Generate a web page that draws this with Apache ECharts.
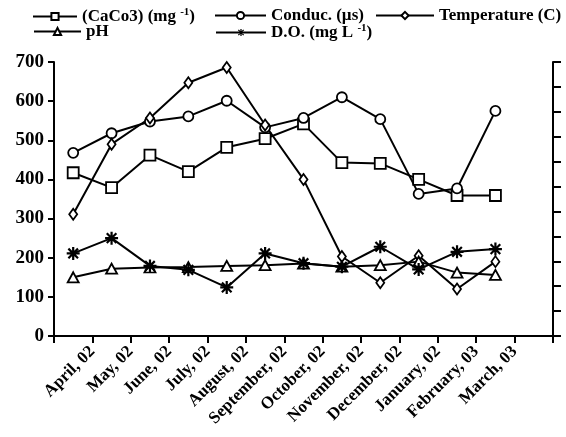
<!DOCTYPE html>
<html>
<head>
<meta charset="utf-8">
<script src="https://cdn.jsdelivr.net/npm/echarts@6/dist/echarts.min.js"></script>
<style>html,body{margin:0;padding:0;background:#fff;}#c{width:566px;height:437px;}</style>
</head>
<body>
<div id="c"></div>
<script>
const months = ['April, 02','May, 02','June, 02','July, 02','August, 02','September, 02','October, 02','November, 02','December, 02','January, 02','February, 03','March, 03'];
const caco3 = [417, 379, 462, 420, 482, 504, 542, 443, 441, 400, 359, 359];
const conduc = [468, 518, 548, 561, 601, 533, 557, 610, 554, 363, 377, 575];
const temperature = [311, 490, 557, 647, 686, 539, 400, 203, 136, 205, 120, 190];
const ph = [150, 172, 175, 176, 179, 181, 185, 177, 181, 190, 162, 156];
const dox = [211, 250, 179, 169, 124, 211, 186, 177, 228, 170, 215, 222];
const leftTicks = {min: 0, max: 700, interval: 100};
const rightTicks = {min: 0, max: 11, interval: 1};

const FONT = 'Liberation Serif';
const asterisk = 'path://M8.3,0 L11.7,0 L11.7,20 L8.3,20 Z M0,8.3 L20,8.3 L20,11.7 L0,11.7 Z M1.4,3.8 L3.8,1.4 L18.6,16.2 L16.2,18.6 Z M16.2,1.4 L18.6,3.8 L3.8,18.6 L1.4,16.2 Z M6,6 L14,6 L14,14 L6,14 Z';

const names = ['(CaCo3) (mg -1)', 'Conduc. (\u00b5s)', 'Temperature (C)', 'pH', 'D.O. (mg L -1)'];
const emptyStyle = {color: '#fff', borderColor: '#000', borderWidth: 1.8};
const lineStyle = {color: '#000', width: 2};

function mkSeries(name, data, symbol, size, style) {
  return {
    name: name, type: 'line', data: data, xAxisIndex: 0, yAxisIndex: 0,
    symbol: symbol, symbolSize: size, showAllSymbol: true,
    itemStyle: style, lineStyle: lineStyle, animation: false,
    emphasis: {disabled: true}
  };
}

const textStyle = {
  fontFamily: FONT, fontSize: 17, fontWeight: 'bold', color: '#000',
  rich: {sup: {fontFamily: FONT, fontSize: 11, fontWeight: 'bold', color: '#000', verticalAlign: 'top', padding: [0, 0, 8, 0]}}
};
function fmt(n) { return n.replace('-1', '{sup|-1}'); }
function legend(name, left, top, w) {
  return {data: [name], left: left, top: top, itemWidth: w, itemHeight: 9, padding: 0,
          textStyle: textStyle, formatter: fmt, selectedMode: false};
}

const labelCats = [''].concat(months, ['']);
const dataCats = months.concat(['']);

const option = {
  backgroundColor: '#fff',
  animation: false,
  grid: {left: 54, right: 13, top: 62, bottom: 101, containLabel: false},
  legend: [
    legend(names[0], 32, 7, 44),
    legend(names[1], 214, 7, 51),
    legend(names[2], 375, 7, 58),
    legend(names[3], 33, 23, 47),
    legend(names[4], 215, 23, 50)
  ],
  xAxis: [
    {type: 'category', data: dataCats, boundaryGap: true, show: false},
    {type: 'category', data: labelCats, boundaryGap: false, position: 'bottom',
     axisLine: {lineStyle: {color: '#000', width: 2}},
     axisTick: {show: true, length: 7, interval: 0, lineStyle: {color: '#000', width: 2}},
     axisLabel: {interval: 0, rotate: 45, margin: 13, color: '#000', fontFamily: FONT, fontSize: 17, fontWeight: 'bold'},
     splitLine: {show: false}}
  ],
  yAxis: [
    {type: 'value', min: leftTicks.min, max: leftTicks.max, interval: leftTicks.interval, position: 'left',
     axisLine: {show: true, lineStyle: {color: '#000', width: 2}},
     axisTick: {show: true, length: 6, lineStyle: {color: '#000', width: 2}},
     axisLabel: {color: '#000', fontFamily: FONT, fontSize: 19, fontWeight: 'bold', margin: 10},
     splitLine: {show: false}},
    {type: 'value', min: rightTicks.min, max: rightTicks.max, interval: rightTicks.interval, position: 'right',
     axisLine: {show: true, lineStyle: {color: '#000', width: 2}},
     axisTick: {show: true, length: 8, lineStyle: {color: '#000', width: 2}},
     axisLabel: {show: false},
     splitLine: {show: false}}
  ],
  series: [
    mkSeries(names[0], caco3, 'rect', 11, emptyStyle),
    mkSeries(names[1], conduc, 'circle', 10, emptyStyle),
    mkSeries(names[2], temperature, 'diamond', [8, 11], emptyStyle),
    mkSeries(names[3], ph, 'triangle', [11, 10], emptyStyle),
    mkSeries(names[4], dox, asterisk, 13, {color: '#000', borderWidth: 0})
  ]
};
const chart = echarts.init(document.getElementById('c'), null, {renderer: 'canvas'});
chart.setOption(option);
</script>
</body>
</html>
